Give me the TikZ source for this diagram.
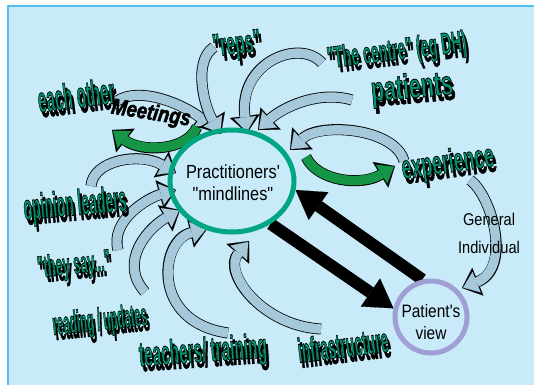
\documentclass[tikz,border=0pt]{standalone}
\usepackage{fontspec}
\usepackage{graphicx}
\usepackage{xcolor}
\usepackage{tikz}
\usetikzlibrary{arrows.meta}
\usetikzlibrary{shapes.geometric}
\usetikzlibrary{backgrounds}
\setmainfont{Liberation Sans}
\newfontfamily\narrowfont[FakeStretch=0.86]{Liberation Sans}
\newfontfamily\headfont[FakeBold=2.5]{Liberation Sans}
\definecolor{bgblue}{RGB}{200,234,249}
\definecolor{frameblue}{RGB}{80,192,238}
\definecolor{mindteal}{RGB}{0,166,130}
\definecolor{headteal}{RGB}{0,150,112}
\definecolor{viewlilac}{RGB}{158,160,212}
\definecolor{bandgrey}{RGB}{165,200,218}
\definecolor{bandgreen}{RGB}{20,150,70}
\tikzset{
  bandline/.style={draw=black, line width=11pt, -{Triangle[length=17pt,width=30pt,line width=0.1pt]}},
  bandfill/.style={draw=#1, line width=9.4pt, shorten >=1.2pt, -{Triangle[length=14.5pt,width=22pt,line width=0.1pt]}},
  blackarrow/.style={draw=black, line width=12pt, -{Triangle[length=28pt,width=34pt,line width=0.1pt]}},
  headtext/.style={inner sep=0pt, text=headteal, font=\headfont\bfseries\fontsize{14}{14}\selectfont},
  headshadow/.style={headtext, text=black},
  plaintext/.style={inner sep=0pt, font=\narrowfont\fontsize{17}{17}\selectfont},
}
% teal letters with a black rim
\newcommand{\rimtext}[1]{\special{pdf:bcolor [0 0.588 0.439] [0 0 0]}#1\special{pdf:ecolor}}
% curved block arrow: outline first, then fill
\newcommand{\bandarrow}[2]{\draw[bandline] #2; \draw[bandfill=#1] #2;}
% name, position, angle, width, height, text
\newcommand{\headlabel}[6]{%
  \node[headshadow, rotate=#3] (#1-shadow) at ([xshift=2.5pt,yshift=-5pt]#2) {\resizebox{#4pt}{#5pt}{#6}};
  \node[headtext, rotate=#3] (#1) at (#2) {\resizebox{#4pt}{#5pt}{\rimtext{#6}}};}

\begin{document}
\begin{tikzpicture}[x=1pt, y=-1pt]
  \useasboundingbox (0,0) rectangle (534,385);
  \node[ellipse, draw=mindteal, line width=5pt, minimum width=124pt, minimum height=102pt] (mind) at (232,181) {};
  \node[circle, draw=viewlilac, line width=5pt, minimum size=72pt] (patient) at (431,317) {};
  \node[inner sep=0pt, align=center, font=\narrowfont\fontsize{19}{22}\selectfont] (mindtext) at (233,183) {Practitioners'\\"mindlines"};
  \node[inner sep=0pt, align=center, font=\narrowfont\fontsize{18}{22}\selectfont] (patienttext) at (431,322) {Patient's\\view};

  \begin{scope}[on background layer]
    \fill[bgblue] (8,6) rectangle (534,385);
    \draw[frameblue, line width=2pt] (8,385) -- (8,6) -- (534,6);
    \bandarrow{bandgrey}{(117,101) .. controls (140,86) and (182,104) .. (213,127)}
    \bandarrow{bandgrey}{(214,47) .. controls (192,62) and (205,108) .. (221,134)}
    \bandarrow{bandgrey}{(322,63) .. controls (300,38) and (238,62) .. (247,133)}
    \bandarrow{bandgrey}{(352,100) .. controls (318,90) and (282,108) .. (258,130)}
    \bandarrow{bandgrey}{(404,161) .. controls (395,128) and (320,122) .. (290,150)}
    \bandarrow{bandgrey}{(470,180) .. controls (492,196) and (512,268) .. (462,288)}
    \bandarrow{bandgrey}{(91,186) .. controls (93,160) and (140,152) .. (176,173)}
    \bandarrow{bandgrey}{(118,250) .. controls (110,220) and (148,198) .. (176,190)}
    \bandarrow{bandgrey}{(145,292) .. controls (118,262) and (148,228) .. (180,210)}
    \bandarrow{bandgrey}{(228,333) .. controls (150,322) and (160,240) .. (207,229)}
    \bandarrow{bandgrey}{(321,329) .. controls (262,326) and (222,272) .. (249,241)}
    \bandarrow{bandgreen}{(197,127) .. controls (186,152) and (140,152) .. (112,130)}
    \bandarrow{bandgreen}{(306,157) .. controls (318,182) and (362,186) .. (395,166)}
    \draw[blackarrow] (patient.103) -- (mind.-8);
    \draw[blackarrow] (mind.-48) -- (patient.167);
  \end{scope}

  \node[plaintext] (general) at (489,219) {General};
  \node[plaintext] (individual) at (489,247) {Individual};
  \node[inner sep=0pt, rotate=-9, font=\headfont\bfseries\itshape\fontsize{14}{14}\selectfont] (meetings) at (151,114) {\resizebox{80pt}{16pt}{Meetings}};

  \headlabel{eachother}{76,95}{7}{77}{26}{each other}
  \headlabel{reps}{237,46}{7}{48}{22}{"reps"}
  \headlabel{centre}{397,52}{7}{140}{22}{"The centre" (eg DH)}
  \headlabel{patients}{412,89}{5}{82}{25}{patients}
  \headlabel{experience}{448,164}{8}{93}{24}{experience}
  \headlabel{opinion}{75,206}{5}{103}{26}{opinion leaders}
  \headlabel{theysay}{74,266}{6}{73}{22}{"they say..."}
  \headlabel{reading}{100,322}{6}{95}{23}{reading / updates}
  \headlabel{teachers}{203,353}{4}{128}{25}{teachers/ training}
  \headlabel{infra}{343,345}{7}{91}{25}{infrastructure}
\end{tikzpicture}
\end{document}
